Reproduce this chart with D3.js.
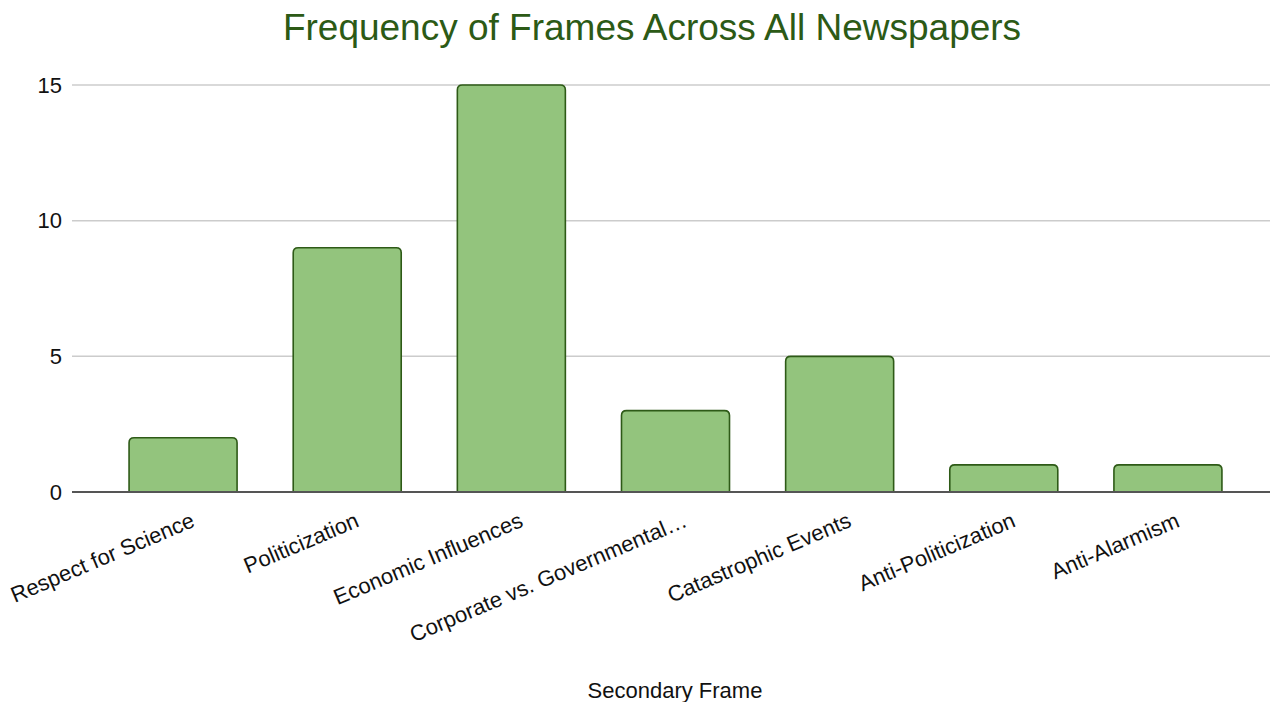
<!DOCTYPE html>
<html>
<head>
<meta charset="utf-8">
<script src="https://cdn.jsdelivr.net/npm/d3@7"></script>
<style>
  html, body { margin: 0; padding: 0; background: #fff; }
  svg { display: block; font-family: "Liberation Sans", Arial, sans-serif; }
</style>
</head>
<body>
<svg id="chart" width="1270" height="702"></svg>
<script>
const categories = ["Respect for Science", "Politicization", "Economic Influences", "Corporate vs. Governmental\u2026", "Catastrophic Events", "Anti-Politicization", "Anti-Alarmism"];
const values = [2, 9, 15, 3, 5, 1, 1];
const yTicks = [0, 5, 10, 15];
const titleText = "Frequency of Frames Across All Newspapers";
const xAxisTitle = "Secondary Frame";

const svg = d3.select("#chart");
const gridLeft = 72, gridRight = 1270;

const x = d3.scaleBand().domain(categories).range([101, 1250]).paddingInner(0.342).paddingOuter(0.171);
const y = d3.scaleLinear().domain([0, 15]).range([492, 85]);

// title
svg.append("text")
  .attr("x", 652).attr("y", 40)
  .attr("text-anchor", "middle")
  .attr("font-size", 37)
  .attr("fill", "#2c5a16")
  .text(titleText);

// gridlines
svg.append("g").selectAll("line").data(yTicks.filter(d => d !== 0)).join("line")
  .attr("x1", gridLeft).attr("x2", gridRight)
  .attr("y1", d => y(d)).attr("y2", d => y(d))
  .attr("stroke", "#cccccc").attr("stroke-width", 1.5);

// y tick labels
const yAxis = d3.axisLeft(y).tickValues(yTicks).tickSize(0).tickPadding(0);
const gy = svg.append("g").attr("transform", `translate(62,0)`).call(yAxis);
gy.select(".domain").remove();
gy.selectAll("text").attr("font-size", 22).attr("fill", "#111").attr("font-family", "Liberation Sans, Arial, sans-serif");

// bars with rounded top corners
const r = 5;
function barPath(d, i) {
  const x0 = x(categories[i]), w = x.bandwidth();
  const yt = y(d), yb = y(0);
  return `M${x0},${yb} L${x0},${yt + r} Q${x0},${yt} ${x0 + r},${yt} L${x0 + w - r},${yt} Q${x0 + w},${yt} ${x0 + w},${yt + r} L${x0 + w},${yb} Z`;
}
svg.append("g").selectAll("path").data(values).join("path")
  .attr("d", (d, i) => barPath(d, i))
  .attr("fill", "#93c47d")
  .attr("stroke", "#2e5a17")
  .attr("stroke-width", 1.6);

// baseline
svg.append("line")
  .attr("x1", gridLeft).attr("x2", gridRight)
  .attr("y1", y(0)).attr("y2", y(0))
  .attr("stroke", "#555").attr("stroke-width", 2);

// x labels
const xAxis = d3.axisBottom(x).tickSize(0).tickPadding(0);
const gx = svg.append("g").call(xAxis);
gx.select(".domain").remove();
gx.selectAll(".tick").attr("transform", null);
gx.selectAll(".tick text")
  .attr("font-size", 22)
  .attr("fill", "#111")
  .attr("font-family", "Liberation Sans, Arial, sans-serif")
  .attr("text-anchor", "end")
  .attr("dy", null)
  .attr("y", null)
  .attr("transform", d => `translate(${x(d) + x.bandwidth() / 2 + 13},526) rotate(-23)`);

// x axis title
svg.append("text")
  .attr("x", 675).attr("y", 698)
  .attr("text-anchor", "middle")
  .attr("font-size", 22)
  .attr("fill", "#111")
  .text(xAxisTitle);
</script>
</body>
</html>
